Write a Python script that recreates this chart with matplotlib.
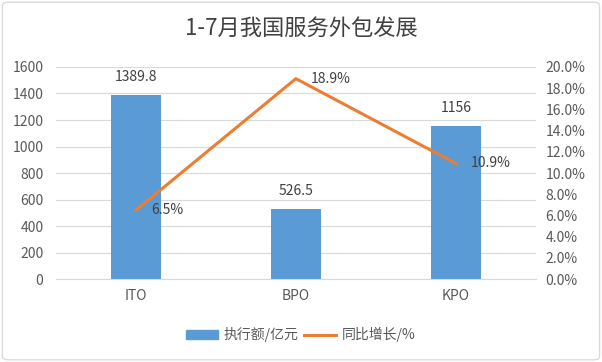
import matplotlib
matplotlib.use("Agg")
import matplotlib.pyplot as plt
from matplotlib.patches import FancyBboxPatch, Patch
from matplotlib.lines import Line2D
from matplotlib.ticker import FuncFormatter

plt.rcParams['font.family'] = ['Noto Sans CJK SC', 'DejaVu Sans']

categories = ["ITO", "BPO", "KPO"]
amount = [1389.8, 526.5, 1156]
amount_labels = ["1389.8", "526.5", "1156"]
growth = [6.5, 18.9, 10.9]

bar_color = "#5B9BD5"
line_color = "#ED7D31"
text_color = "#595959"
grid_color = "#D9D9D9"

fig = plt.figure(figsize=(6.02, 3.62), dpi=100)
ax = fig.add_axes([0.093, 0.229, 0.797, 0.586])

x = list(range(len(categories)))
ax.bar(x, amount, width=0.31, color=bar_color, zorder=2)
ax.set_xlim(-0.5, 2.5)
ax.set_ylim(0, 1600)
ax.set_yticks(range(0, 1601, 200))
ax.grid(axis="y", color=grid_color, linewidth=0.8, zorder=0)
ax.set_xticks(x)
ax.set_xticklabels(categories)
for s in ax.spines.values():
    s.set_visible(False)
ax.spines["bottom"].set_visible(True)
ax.spines["bottom"].set_color(grid_color)
ax.tick_params(length=0, colors=text_color, labelsize=10)
ax.tick_params(axis="y", pad=9)
ax.tick_params(axis="x", pad=7)

for xi, v, lab in zip(x, amount, amount_labels):
    ax.annotate(lab, (xi, v), xytext=(0, 8), textcoords="offset points",
                ha="center", va="bottom", fontsize=10, color="#404040")

ax2 = ax.twinx()
ax2.plot(x, growth, color=line_color, linewidth=2.2, zorder=3)
ax2.set_ylim(0, 20)
ax2.set_yticks(range(0, 21, 2))
ax2.yaxis.set_major_formatter(FuncFormatter(lambda v, p: f"{v:.1f}%"))
for s in ax2.spines.values():
    s.set_visible(False)
ax2.tick_params(length=0, colors=text_color, labelsize=10, pad=7)

# labels sit to the right of each point
for xi, v in zip(x, growth):
    ax2.annotate(f"{v}%", (xi, v), xytext=(11, 0), textcoords="offset points",
                 ha="left", va="center", fontsize=10, color="#404040")

fig.text(0.5, 0.922, "1-7月我国服务外包发展", ha="center", va="center",
         fontsize=16, color="#404040")

handles = [Patch(color=bar_color, label="执行额/亿元"),
           Line2D([0], [0], color=line_color, linewidth=2.2, label="同比增长/%")]
leg = fig.legend(handles=handles, loc="center", bbox_to_anchor=(0.5, 0.075), ncol=2,
                 frameon=False, fontsize=10, handlelength=2.3, columnspacing=0.4,
                 handletextpad=0.4)
for t in leg.get_texts():
    t.set_color(text_color)

border = FancyBboxPatch((0.004, 0.006), 0.992, 0.988, boxstyle="round,pad=0,rounding_size=0.01",
                        transform=fig.transFigure, fill=False, edgecolor="#D9D9D9",
                        linewidth=1)
fig.patches.append(border)

fig.savefig("out.png", dpi=100)
